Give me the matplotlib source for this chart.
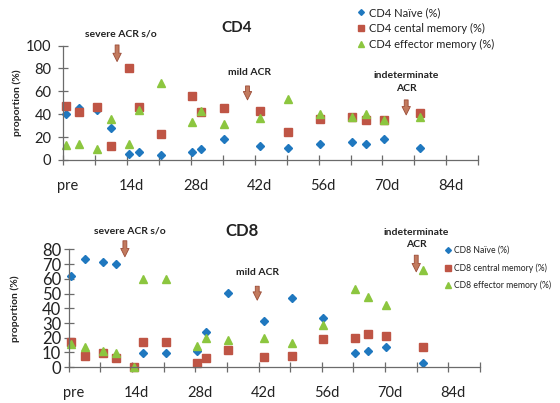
import numpy as np
import matplotlib
matplotlib.use('Agg')
import matplotlib.pyplot as plt
from matplotlib.transforms import ScaledTranslation

plt.rcParams['font.family'] = ['Lato', 'DejaVu Sans']

# days after transplant for each sample (pre = ~0)
days = [0.5, 3.5, 7.5, 10.5, 14.5, 16.5, 21.5, 28.3, 30.3, 35.3, 43.2, 49.3, 56.3, 63.3, 66.3, 70.3, 78.3]

cd4_naive = [40.2, 45.5, 44, 27.7, 5.5, 6.7, 4, 6.7, 9.6, 18.4, 12.2, 10.8, 14, 16, 14, 18.7, 10.8]
cd4_central = [47.5, 41.7, 46.6, 12.2, 80.2, 46, 22.4, 56.3, 41.7, 45.2, 43.1, 24.5, 35.6, 37.3, 35, 35, 41.4]
cd4_effector = [13.1, 14, 9.3, 35.9, 14, 43.7, 67, 33.2, 43.1, 31.8, 36.4, 53.4, 40, 37.9, 40.2, 35, 37.3]

cd8_naive = [61.9, 73.2, 71.4, 70.3, np.nan, 9.5, 9.5, 11.3, 23.6, 50.3, 31.3, 47.2, 33.1, 9.3, 11.3, 13.6, 2.5]
cd8_central = [16.8, 7.9, 9.8, 5.9, 0.2, 16.8, 16.8, 2.9, 6.3, 11.8, 6.6, 7.5, 19, 20, 22.2, 21.1, 13.6]
cd8_effector = [15.6, 13.4, 11.3, 9.8, 0, 59.9, 59.9, 14.5, 20, 18.4, 19.5, 16.1, 28.6, 53.3, 47.8, 42, 66]

tick_days = [0, 14, 28, 42, 56, 70, 84]
tick_labels = ['pre', '14d', '28d', '42d', '56d', '70d', '84d']

blue = '#1f78bf'
red = '#bf5545'
green = '#8cc63f'
arrow_fc = '#c27a5e'
arrow_ec = '#9b4b36'
axis_col = '#6b6b6b'
text_col = '#222222'

fig = plt.figure(figsize=(5.6, 4.03), dpi=100)
ax1 = fig.add_axes([0.113, 0.603, 0.741, 0.284])
ax2 = fig.add_axes([0.123, 0.089, 0.734, 0.292])


def style_axes(ax, ymax, ystep, yfs, ypad):
    ax.set_xlim(0, 91)
    ax.set_ylim(0, ymax)
    for s in ['top', 'right']:
        ax.spines[s].set_visible(False)
    for s in ['left', 'bottom']:
        ax.spines[s].set_color(axis_col)
        ax.spines[s].set_linewidth(0.9)
    ax.set_yticks(np.arange(0, ymax + 1, ystep))
    ax.set_xticks(np.arange(0, 92, 7), minor=True)
    ax.set_xticks(tick_days)
    ax.set_xticklabels(tick_labels)
    ax.tick_params(axis='both', which='both', direction='inout', length=7, width=0.9,
                   color=axis_col, labelcolor=text_col)
    ax.tick_params(axis='x', labelsize=10.5, pad=10)
    ax.tick_params(axis='y', labelsize=yfs, pad=ypad)
    off = ScaledTranslation(0.045, 0, fig.dpi_scale_trans)
    for lab in ax.get_xticklabels():
        lab.set_transform(lab.get_transform() + off)
    ax.set_ylabel('proportion (%)', fontsize=7.5, fontweight='bold', color=text_col)
    ax.patch.set_alpha(0)


def draw_arrow(ax, x, y0, y1):
    ax.annotate('', xy=(x, y1), xytext=(x, y0), annotation_clip=False,
                arrowprops=dict(arrowstyle='simple,head_width=0.6,head_length=0.6,tail_width=0.28',
                                fc=arrow_fc, ec=arrow_ec, lw=0.6, shrinkA=0, shrinkB=0))


def note(ax, x, y, s):
    ax.text(x, y, s, ha='center', va='center', fontsize=7.5, fontweight='bold',
            color=text_col, linespacing=1.5, clip_on=False)


# CD4 panel
ax1.plot(days, cd4_naive, 'D', color=blue, ms=4.2, mec=blue, label='CD4 Naïve (%)', clip_on=False)
ax1.plot(days, cd4_central, 's', color=red, ms=6.2, mec=red, label='CD4 cental memory (%)', clip_on=False)
ax1.plot(days, cd4_effector, '^', color=green, ms=6.2, mec=green, label='CD4 effector memory (%)', clip_on=False)
style_axes(ax1, 100, 20, 10.5, 5)
ax1.yaxis.set_label_coords(-0.1, 0.5)
ax1.text(0.418, 1.15, 'CD4', transform=ax1.transAxes, ha='center', va='center',
         fontsize=11, fontweight='bold', color=text_col)
note(ax1, 12.7, 110, 'severe ACR s/o')
draw_arrow(ax1, 11.8, 100.5, 86)
note(ax1, 40.9, 76.4, 'mild ACR')
draw_arrow(ax1, 40.4, 64.7, 52.5)
note(ax1, 75.2, 68.1, 'indeterminate\nACR')
draw_arrow(ax1, 75.2, 52.5, 39.4)
leg1 = ax1.legend(loc='upper left', bbox_to_anchor=(0.71, 1.335), frameon=False, fontsize=8,
                  handlelength=0.5, handletextpad=0.5, labelspacing=0.42, borderaxespad=0,
                  borderpad=0, markerscale=0.7)
for t in leg1.get_texts():
    t.set_color(text_col)

# CD8 panel
ax2.plot(days, cd8_naive, 'D', color=blue, ms=4.2, mec=blue, label='CD8 Naïve (%)', clip_on=False)
ax2.plot(days, cd8_central, 's', color=red, ms=6.2, mec=red, label='CD8 central memory (%)', clip_on=False)
ax2.plot(days, cd8_effector, '^', color=green, ms=6.2, mec=green, label='CD8 effector memory (%)', clip_on=False)
style_axes(ax2, 80, 10, 12, 2)
ax2.yaxis.set_label_coords(-0.12, 0.5)
ax2.text(0.42, 1.16, 'CD8', transform=ax2.transAxes, ha='center', va='center',
         fontsize=12, fontweight='bold', color=text_col)
note(ax2, 13.5, 92.7, 'severe ACR s/o')
draw_arrow(ax2, 12.4, 85.9, 75)
note(ax2, 41.8, 64.1, 'mild ACR')
draw_arrow(ax2, 41.7, 55, 45.5)
note(ax2, 76.9, 87.4, 'indeterminate\nACR')
draw_arrow(ax2, 76.9, 76.1, 64.8)
leg2 = ax2.legend(loc='upper left', bbox_to_anchor=(0.918, 1.03), frameon=False, fontsize=6.2,
                  handlelength=0.5, handletextpad=0.4, labelspacing=0.95, borderaxespad=0,
                  borderpad=0, markerscale=0.7)
for t in leg2.get_texts():
    t.set_color(text_col)

fig.savefig('out.png', dpi=100)
